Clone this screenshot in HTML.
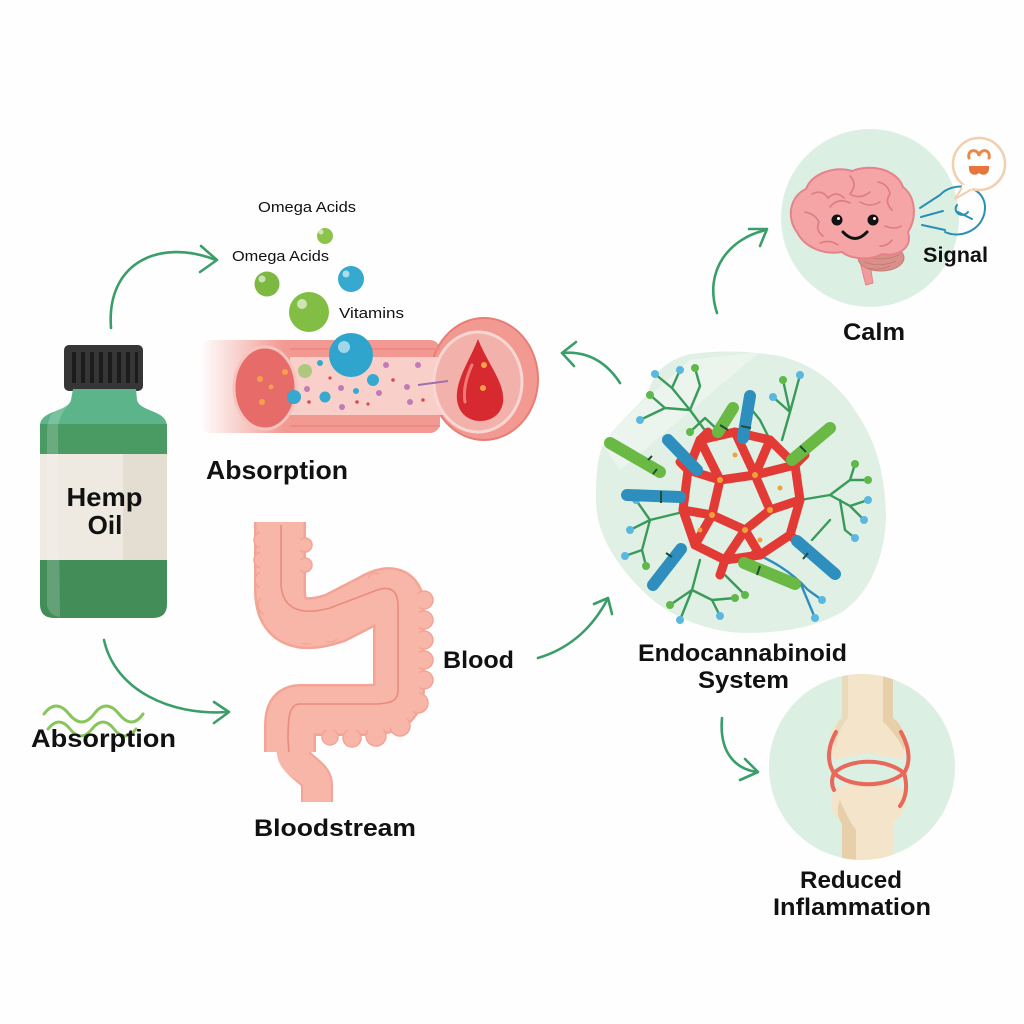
<!DOCTYPE html>
<html><head><meta charset="utf-8"><style>
html,body{margin:0;padding:0;background:#fff;}
svg{display:block;}
text{font-family:"Liberation Sans",sans-serif;fill:#111;}
.b{font-weight:bold;}
</style></head><body>
<svg width="1024" height="1024" viewBox="0 0 1024 1024" xmlns="http://www.w3.org/2000/svg">
<defs>
<linearGradient id="fade" x1="0" x2="1" y1="0" y2="0">
<stop offset="0" stop-color="#f29a92" stop-opacity="0"/>
<stop offset="0.35" stop-color="#f29a92" stop-opacity="1"/>
<stop offset="1" stop-color="#f29a92"/>
</linearGradient>
<clipPath id="jc"><circle cx="862" cy="767" r="93"/></clipPath>
</defs>
<rect width="1024" height="1024" fill="#fefefe"/>

<!-- ARROWS -->
<g fill="none" stroke="#3a9e6a" stroke-width="2.6" stroke-linecap="round" stroke-linejoin="round">
<path d="M111,328 C106,262 160,238 216,260"/><polyline points="201,246 217,260 200,272"/>
<path d="M104,640 C115,690 170,716 228,712"/><polyline points="214,702 229,712 214,723"/>
<path d="M538,658 C565,650 590,632 607,600"/><polyline points="594,604 608,598 612,614"/>
<path d="M620,383 C605,360 585,351 562,353"/><polyline points="576,342 562,353 574,366"/>
<path d="M717,313 C703,270 730,238 766,230"/><polyline points="749,229 767,229 760,246"/>
<path d="M722,718 C719,752 735,769 757,772"/><polyline points="745,759 758,772 740,780"/>
</g>

<!-- BOTTLE -->
<g>
<rect x="64" y="345" width="79" height="46" rx="5" fill="#363636"/>
<g fill="#1c1c1c">
<rect x="72" y="352" width="4" height="31"/><rect x="81" y="352" width="4" height="31"/><rect x="90" y="352" width="4" height="31"/><rect x="99" y="352" width="4" height="31"/><rect x="108" y="352" width="4" height="31"/><rect x="117" y="352" width="4" height="31"/><rect x="126" y="352" width="4" height="31"/><rect x="135" y="352" width="3" height="31"/>
</g>
<path d="M73,389 L136,389 L137,400 C140,412 167,410 167,426 L40,426 C40,410 68,412 71,400 Z" fill="#5cb58a"/>
<rect x="40" y="424" width="127" height="31" fill="#4a9a63"/>
<rect x="40" y="454" width="127" height="107" fill="#eeeae1"/>
<rect x="123" y="454" width="44" height="107" fill="#e4ddd1"/>
<path d="M40,560 L167,560 L167,604 Q167,618 153,618 L54,618 Q40,618 40,604 Z" fill="#438d58"/>
<path d="M62,400 C55,410 48,415 47,430 L47,606 Q50,616 60,617 L58,430 C58,418 64,410 70,402 Z" fill="#fff" opacity="0.18"/>
<text x="104.5" y="506" class="b" font-size="26" text-anchor="middle" textLength="76" lengthAdjust="spacingAndGlyphs">Hemp</text>
<text x="105" y="534" class="b" font-size="26" text-anchor="middle">Oil</text>
</g>

<!-- TOP LABELS & BUBBLES -->
<text x="258" y="212" font-size="15" textLength="98" lengthAdjust="spacingAndGlyphs">Omega Acids</text>
<text x="232" y="261" font-size="15" textLength="97" lengthAdjust="spacingAndGlyphs">Omega Acids</text>
<text x="339" y="318" font-size="15" textLength="65" lengthAdjust="spacingAndGlyphs">Vitamins</text>
<circle cx="325" cy="236" r="8" fill="#8cc34a"/>
<circle cx="267" cy="284" r="12.5" fill="#7db842"/>
<circle cx="351" cy="279" r="13" fill="#35a9cf"/>
<circle cx="309" cy="312" r="20" fill="#82bd44"/>
<g fill="#fff" opacity="0.6"><circle cx="262" cy="279" r="3.5"/><circle cx="346" cy="274" r="3.5"/><circle cx="302" cy="304" r="5"/><circle cx="321" cy="232" r="2.5"/></g>

<!-- BLOOD VESSEL -->
<g>
<rect x="200" y="340" width="240" height="93" rx="10" fill="url(#fade)"/>
<ellipse cx="484" cy="379" rx="54" ry="61" fill="#f29a92" stroke="#e87d76" stroke-width="2"/>
<rect x="290" y="357" width="160" height="58" fill="#f8cfc9"/>
<path d="M290,349 L440,349 M290,426 L440,426" stroke="#ee8a83" stroke-width="2"/>
<ellipse cx="265" cy="388" rx="31" ry="41" fill="#e66b69" stroke="#f7c3bd" stroke-width="3"/>
<ellipse cx="478" cy="382" rx="44" ry="50" fill="#f2b2ab" stroke="#f8d6d1" stroke-width="3"/>
<path d="M478,339 C470,360 455,380 457,400 C459,415 470,421 480,421 C495,421 505,410 503,395 C501,378 486,360 478,339 Z" fill="#d62a30"/>
<path d="M472,365 C466,378 463,390 465,402" stroke="#f07a78" stroke-width="3" fill="none" stroke-linecap="round"/>
<g fill="#f5a04a"><circle cx="260" cy="379" r="3"/><circle cx="285" cy="372" r="3"/><circle cx="271" cy="387" r="2.5"/><circle cx="262" cy="402" r="3"/><circle cx="484" cy="365" r="3"/><circle cx="483" cy="388" r="3"/></g>
<g fill="#c27ab8"><circle cx="307" cy="389" r="3"/><circle cx="341" cy="388" r="3"/><circle cx="386" cy="365" r="3"/><circle cx="418" cy="365" r="3"/><circle cx="379" cy="393" r="3"/><circle cx="407" cy="387" r="3"/><circle cx="410" cy="402" r="3"/><circle cx="342" cy="407" r="3"/></g>
<g fill="#e04848"><circle cx="357" cy="402" r="1.8"/><circle cx="393" cy="380" r="1.8"/><circle cx="309" cy="402" r="1.8"/><circle cx="423" cy="400" r="1.8"/><circle cx="330" cy="378" r="1.6"/><circle cx="368" cy="404" r="1.6"/></g>
<path d="M418,385 L448,381" stroke="#a070b0" stroke-width="2"/>
<circle cx="305" cy="371" r="7" fill="#9cc66a" opacity="0.8"/>
<g fill="#35a9cf"><circle cx="294" cy="397" r="7"/><circle cx="325" cy="397" r="5.5"/><circle cx="373" cy="380" r="6"/><circle cx="320" cy="363" r="3"/><circle cx="356" cy="391" r="3"/></g>
<circle cx="351" cy="355" r="22" fill="#2fa5cd"/>
<circle cx="344" cy="347" r="6" fill="#fff" opacity="0.55"/>
</g>
<text x="206" y="479" class="b" font-size="26" textLength="142" lengthAdjust="spacingAndGlyphs">Absorption</text>

<!-- LEFT ABSORPTION -->
<g fill="none" stroke="#86c65a" stroke-width="3" stroke-linecap="round">
<path d="M44,714 q12,-16 25,0 t25,0 t25,0 t24,0"/>
<path d="M48,729 q11,-14 22,0 t22,0 t22,0 t22,0"/>
</g>
<text x="31" y="747" class="b" font-size="25" textLength="145" lengthAdjust="spacingAndGlyphs">Absorption</text>

<!-- INTESTINE -->
<g fill="none" stroke-linejoin="round">
<path d="M280,522 L280,590 C280,626 305,628 335,618 L370,600 C386,590 399,590 399,606 L399,688 C399,710 380,710 360,710 L300,710 C290,710 290,718 290,732 L290,752" stroke="#f3a495" stroke-width="52"/>
<path d="M292,745 C292,768 317,770 317,785 L317,802" stroke="#f3a495" stroke-width="32"/>
<path d="M280,522 L280,590 C280,626 305,628 335,618 L370,600 C386,590 399,590 399,606 L399,688 C399,710 380,710 360,710 L300,710 C290,710 290,718 290,732 L290,752" stroke="#f8b6a9" stroke-width="47"/>
<path d="M292,745 C292,768 317,770 317,785 L317,802" stroke="#f8b6a9" stroke-width="28"/>
</g>
<g fill="#f8b6a9" stroke="#f3a495" stroke-width="1.5">
<circle cx="262" cy="540" r="8"/><circle cx="262" cy="560" r="8"/><circle cx="263" cy="580" r="8"/><circle cx="268" cy="605" r="10"/><circle cx="285" cy="625" r="10"/><circle cx="307" cy="634" r="10"/><circle cx="330" cy="633" r="9"/>
<circle cx="424" cy="600" r="9"/><circle cx="424" cy="620" r="9"/><circle cx="424" cy="640" r="9"/><circle cx="424" cy="660" r="9"/><circle cx="424" cy="680" r="9"/><circle cx="418" cy="703" r="10"/><circle cx="400" cy="726" r="10"/><circle cx="376" cy="736" r="10"/><circle cx="352" cy="738" r="9"/><circle cx="330" cy="737" r="8"/>
<circle cx="305" cy="545" r="7"/><circle cx="305" cy="565" r="7"/>
<circle cx="350" cy="622" r="8"/><circle cx="375" cy="580" r="7"/>
</g>
<path d="M280,522 L280,590 C280,626 305,628 335,618 L370,600 C386,590 399,590 399,606 L399,688 C399,710 380,710 360,710 L300,710" fill="none" stroke="#f8b6a9" stroke-width="40"/>
<path d="M290,700 L290,752 C290,768 317,770 317,785 L317,802" fill="none" stroke="#f8b6a9" stroke-width="26"/>
<path d="M281,525 L281,585 C283,612 305,615 330,608 L372,592 C390,584 398,590 398,606 L398,690 C398,702 390,704 370,704 L300,704 C289,704 288,718 288,740 L289,752" fill="none" stroke="#e98c7c" stroke-width="1.6"/>
<text x="443" y="668" class="b" font-size="24" textLength="71" lengthAdjust="spacingAndGlyphs">Blood</text>
<text x="254" y="836" class="b" font-size="24" textLength="162" lengthAdjust="spacingAndGlyphs">Bloodstream</text>

<!-- BRAIN -->
<circle cx="870" cy="218" r="89" fill="#dcefe3"/>
<path d="M858,252 C861,266 863,276 866,285 L873,283 C871,272 870,262 870,252 Z" fill="#f09c9c" stroke="#e4838a" stroke-width="1"/>
<ellipse cx="881" cy="258" rx="23" ry="13" fill="#d9908a" stroke="#c77a74" stroke-width="1"/>
<g stroke="#c47872" stroke-width="0.8" fill="none"><path d="M863,255 q17,8 36,0"/><path d="M864,262 q16,6 32,-1"/><path d="M868,268 q12,3 22,-2"/></g>
<path d="M797,232 C786,218 790,196 806,189 C812,173 835,166 852,171 C872,163 897,170 903,187 C916,197 917,218 908,232 C913,248 898,257 882,254 C870,261 850,259 842,252 C824,255 805,248 797,232 Z" fill="#f5a5a6" stroke="#e4838a" stroke-width="2"/>
<g stroke="#dd7c84" stroke-width="1.6" fill="none" stroke-linecap="round">
<path d="M812,194 q10,-5 16,4 q8,-8 16,0"/><path d="M850,176 q8,8 0,18 q10,6 20,-2"/><path d="M878,182 q10,2 12,12 q-6,8 2,16"/>
<path d="M805,212 q10,2 14,10 q-4,8 4,14"/><path d="M830,207 q8,-10 20,-4"/><path d="M885,226 q10,4 16,0"/><path d="M820,243 q10,-4 18,2"/><path d="M892,240 q-4,6 -12,6"/><path d="M860,202 q10,6 20,0"/>
</g>
<circle cx="837" cy="220" r="5.5" fill="#111"/><circle cx="873" cy="220" r="5.5" fill="#111"/>
<circle cx="838.5" cy="218.5" r="1.5" fill="#fff"/><circle cx="874.5" cy="218.5" r="1.5" fill="#fff"/>
<path d="M843,232 Q855,245 867,232" fill="none" stroke="#111" stroke-width="3" stroke-linecap="round"/>
<!-- signal -->
<g fill="none" stroke="#2a8fb5" stroke-width="2" stroke-linecap="round">
<path d="M920,208 L940,195"/><path d="M921,217 L943,211"/><path d="M922,225 L945,230"/>
<path d="M940,195 C953,181 983,184 985,206 C986,228 962,240 945,232"/>
<path d="M957,205 C952,212 962,219 968,212 M958,212 L972,219"/>
</g>
<path d="M963,186 L955,199 L972,189" fill="#fff" stroke="#f2cfae" stroke-width="2"/>
<circle cx="979" cy="164" r="26" fill="#fff" stroke="#f2cfae" stroke-width="2.5"/>
<path d="M962,186 L972,188" stroke="#fff" stroke-width="3"/>
<path d="M969,158 C967,149 978,148 979,156 C980,148 991,149 989,158" fill="none" stroke="#ea8a4a" stroke-width="3" stroke-linecap="round"/>
<path d="M969,166 L989,166 C990,174 984,177 979,173 C974,177 968,174 969,166 Z" fill="#e8743e"/>
<text x="923" y="262" class="b" font-size="21" textLength="65" lengthAdjust="spacingAndGlyphs">Signal</text>
<text x="843" y="340" class="b" font-size="24" textLength="62" lengthAdjust="spacingAndGlyphs">Calm</text>

<!-- ECS -->
<path d="M647,395 C652,378 660,362 690,354 C720,350 750,351 780,356 C815,365 840,385 858,415 C878,445 886,480 886,520 C884,560 868,595 842,612 C815,628 780,633 745,633 C705,632 665,615 640,588 C612,560 596,530 596,500 C596,470 598,455 604,443 C615,425 632,412 647,395 Z" fill="#e1f0e5"/>
<path d="M600,440 L690,360 L760,352 L620,470 Z" fill="#fff" opacity="0.35"/>
<!-- green branches -->
<g fill="none" stroke="#3a9a5a" stroke-width="2.4" stroke-linecap="round" stroke-linejoin="round">
<path d="M712,440 L690,410 L672,388 L680,370 M672,388 L655,374 M690,410 L665,408 L650,395 M665,408 L640,420 M690,410 L700,386 L695,368"/>
<path d="M782,440 L790,412 L800,375 M790,412 L783,380 M790,412 L773,397 M770,440 L760,420 L748,405"/>
<path d="M800,500 L830,495 L850,480 L855,464 M850,480 L868,480 M830,495 L850,506 L868,500 M850,506 L864,520 M840,500 L845,530 L855,538 M830,520 L812,540"/>
<path d="M700,560 L692,590 L670,605 M692,590 L680,620 M692,590 L712,600 L720,616 M712,600 L735,598 M725,575 L745,595"/>
<path d="M683,512 L650,520 L630,530 M650,520 L636,500 M650,520 L642,550 L625,556 M642,550 L646,566"/>
<path d="M720,432 L705,418 L690,432"/>
</g>
<path d="M752,552 C770,560 790,570 808,590 L822,600 M800,582 L815,618" fill="none" stroke="#2e8fbf" stroke-width="2.4" stroke-linecap="round"/>
<g fill="#5ab8e0"><circle cx="680" cy="370" r="4"/><circle cx="655" cy="374" r="4"/><circle cx="640" cy="420" r="4"/><circle cx="800" cy="375" r="4"/><circle cx="868" cy="500" r="4"/><circle cx="864" cy="520" r="4"/><circle cx="855" cy="538" r="4"/><circle cx="680" cy="620" r="4"/><circle cx="720" cy="616" r="4"/><circle cx="630" cy="530" r="4"/><circle cx="625" cy="556" r="4"/><circle cx="822" cy="600" r="4"/><circle cx="815" cy="618" r="4"/><circle cx="636" cy="500" r="4"/><circle cx="773" cy="397" r="4"/></g>
<g fill="#5fb84a"><circle cx="650" cy="395" r="4"/><circle cx="695" cy="368" r="4"/><circle cx="783" cy="380" r="4"/><circle cx="855" cy="464" r="4"/><circle cx="868" cy="480" r="4"/><circle cx="670" cy="605" r="4"/><circle cx="735" cy="598" r="4"/><circle cx="646" cy="566" r="4"/><circle cx="690" cy="432" r="4"/><circle cx="745" cy="595" r="4"/></g>
<!-- red mesh -->
<g fill="none" stroke="#e23b35" stroke-width="9" stroke-linejoin="round" stroke-linecap="round">
<path d="M700,440 L735,432 L770,440 L795,465 L800,500 L790,535 L760,555 L725,560 L695,545 L683,510 L688,470 Z"/>
<path d="M700,440 L720,480 L688,470 M720,480 L755,475 L770,440 M755,475 L795,465 M755,475 L770,510 L800,500 M770,510 L745,530 L760,555 M745,530 L712,515 L695,545 M712,515 L683,510 M712,515 L720,480 M745,530 L725,560 M735,432 L755,475"/>
<path d="M700,440 L708,432 M688,470 L680,462 M795,465 L805,455 M725,560 L720,575 M790,535 L798,542"/>
</g>
<g fill="#f2a03a"><circle cx="720" cy="480" r="3"/><circle cx="755" cy="475" r="3"/><circle cx="770" cy="510" r="3"/><circle cx="745" cy="530" r="3"/><circle cx="712" cy="515" r="3"/><circle cx="735" cy="455" r="2.5"/><circle cx="780" cy="488" r="2.5"/><circle cx="700" cy="530" r="2.5"/><circle cx="760" cy="540" r="2.5"/></g>
<!-- capsules -->
<g fill="none" stroke-width="12" stroke-linecap="round">
<path d="M610,443 L660,472" stroke="#69b944"/>
<path d="M627,495 L680,497" stroke="#2e8fbf"/>
<path d="M668,440 L697,470" stroke="#2e8fbf"/>
<path d="M733,408 L718,432" stroke="#69b944"/>
<path d="M750,396 L743,438" stroke="#2e8fbf"/>
<path d="M830,428 L792,460" stroke="#69b944"/>
<path d="M797,541 L835,574" stroke="#2e8fbf"/>
<path d="M744,563 L795,584" stroke="#69b944"/>
<path d="M681,549 L653,585" stroke="#2e8fbf"/>
</g>
<g stroke="#1f4f3a" stroke-width="2"><path d="M648,460 L652,456 M657,469 L653,474"/><path d="M720,425 L728,430"/><path d="M800,446 L806,452"/><path d="M808,553 L803,559"/><path d="M760,566 L757,575"/><path d="M672,557 L666,553"/><path d="M661,491 L661,503"/><path d="M741,426 L751,428"/></g>
<text x="638" y="661" class="b" font-size="24" textLength="209" lengthAdjust="spacingAndGlyphs">Endocannabinoid</text>
<text x="698" y="688" class="b" font-size="24" textLength="91" lengthAdjust="spacingAndGlyphs">System</text>

<!-- JOINT -->
<circle cx="862" cy="767" r="93" fill="#dcefe3"/>
<g clip-path="url(#jc)">
<path d="M842,660 L893,660 L893,718 C907,726 910,750 900,760 C880,752 855,752 836,760 C826,750 829,726 842,718 Z" fill="#f4e4c9"/>
<path d="M883,660 L893,660 L893,718 C903,724 906,740 904,750 C898,738 890,728 883,722 Z" fill="#e6cfa9"/>
<path d="M842,660 L848,660 L848,718 C840,726 836,740 836,750 C832,738 834,724 842,718 Z" fill="#eadabc"/>
<path d="M836,788 C855,780 880,780 900,788 C910,800 905,815 893,822 L893,880 L842,880 L842,822 C830,815 828,800 836,788 Z" fill="#f4e4c9"/>
<path d="M842,880 L856,880 L856,830 C850,822 845,812 840,800 C836,810 838,818 842,824 Z" fill="#e6cfa9"/>
</g>
<g fill="none" stroke="#e8685a" stroke-width="4" stroke-linecap="round">
<path d="M836,732 C826,750 828,764 834,773 C850,758 886,758 904,773 C910,764 911,750 901,732"/>
<path d="M834,773 C850,788 886,788 904,773 C908,786 906,798 900,806"/>
<path d="M834,773 C831,780 832,786 834,790"/>
</g>
<text x="800" y="888" class="b" font-size="24" textLength="102" lengthAdjust="spacingAndGlyphs">Reduced</text>
<text x="773" y="915" class="b" font-size="24" textLength="158" lengthAdjust="spacingAndGlyphs">Inflammation</text>
</svg>
</body></html>
